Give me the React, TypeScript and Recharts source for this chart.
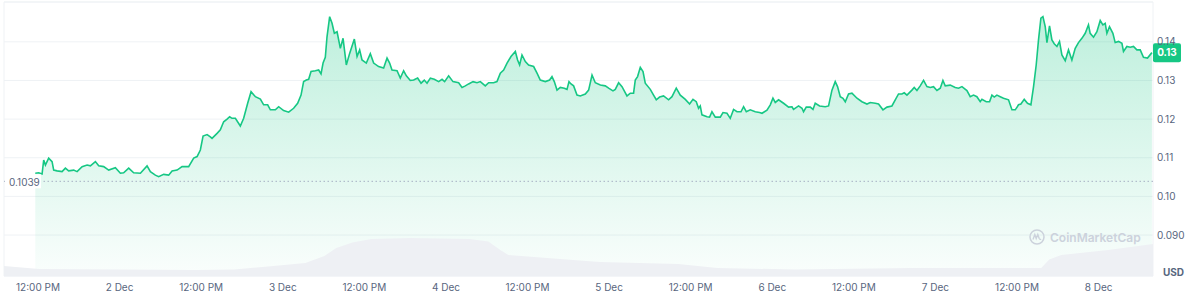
import React from 'react'
import { ComposedChart, Area, XAxis, YAxis, CartesianGrid, ReferenceLine, ReferenceArea } from 'recharts'

type Pt = [number, number]

// [hours since 1 Dec 00:00, price in USD]
const dec1: Pt[] = [
  [11.6, 0.1060], [12.1, 0.1061], [12.6, 0.1058], [12.84, 0.1094], [13.09, 0.1081], [13.57, 0.1099], [14.07, 0.1090],
  [14.31, 0.1068], [14.81, 0.1066], [15.54, 0.1064], [16.03, 0.1073], [16.51, 0.1066], [17.25, 0.1068], [17.75, 0.1064],
  [18.49, 0.1077], [19.22, 0.1081], [19.71, 0.1079], [20.44, 0.1090], [20.93, 0.1079], [21.66, 0.1077], [22.4, 0.1068],
  [23.38, 0.1074],
]
const dec2: Pt[] = [
  [24.12, 0.1060], [24.6, 0.1061], [25.34, 0.1073], [26.07, 0.1061], [27.06, 0.1060], [28.04, 0.1079], [28.53, 0.1064],
  [29.26, 0.1055], [29.75, 0.1051], [30.49, 0.1057], [31.22, 0.1055], [31.72, 0.1066], [32.46, 0.1068], [33.19, 0.1077],
  [34.16, 0.1077], [34.9, 0.1099], [35.4, 0.1103], [35.88, 0.1120], [36.28, 0.1156], [36.87, 0.1160], [37.35, 0.1154],
  [37.6, 0.1150], [38.34, 0.1163], [38.82, 0.1172], [39.31, 0.1193], [39.81, 0.1200], [40.19, 0.1206], [40.54, 0.1202],
  [41.03, 0.1202], [41.76, 0.1182], [42.25, 0.1202], [42.84, 0.1241], [43.34, 0.1271], [43.97, 0.1258], [44.71, 0.1252],
  [45.19, 0.1237], [45.78, 0.1237], [46.18, 0.1224], [46.91, 0.1224], [47.4, 0.1232],
]
const dec3: Pt[] = [
  [48.13, 0.1222], [48.87, 0.1218], [49.6, 0.1228], [50.19, 0.1241], [50.69, 0.1262], [51.07, 0.1297], [51.47, 0.1301],
  [51.81, 0.1303], [52.16, 0.1323], [52.79, 0.1325], [53.28, 0.1327], [53.63, 0.1317], [53.93, 0.1345], [54.26, 0.1360],
  [54.51, 0.1413], [54.9, 0.1465], [55.25, 0.1448], [55.59, 0.1422], [55.99, 0.1426], [56.47, 0.1383], [56.87, 0.1409],
  [57.35, 0.1340], [57.84, 0.1370], [58.53, 0.1407], [58.93, 0.1362], [59.31, 0.1379], [59.66, 0.1353], [60.29, 0.1345],
  [60.88, 0.1369], [61.37, 0.1345], [62.1, 0.1336], [62.84, 0.1332], [63.34, 0.1358], [63.72, 0.1345], [64.07, 0.1327],
  [64.81, 0.1325], [65.29, 0.1306], [65.78, 0.1325], [66.18, 0.1312], [66.76, 0.1300], [67.25, 0.1301], [67.84, 0.1306],
  [68.34, 0.1293], [68.82, 0.1301], [69.22, 0.1293], [69.71, 0.1306], [70.29, 0.1303], [70.93, 0.1297], [71.43, 0.1303],
  [71.81, 0.1297],
]
const dec4: Pt[] = [
  [72.4, 0.1312], [73.04, 0.1297], [73.87, 0.1294], [74.37, 0.1282], [74.85, 0.1286], [75.34, 0.1291], [75.99, 0.1297],
  [76.57, 0.1294], [77.06, 0.1297], [77.79, 0.1286], [78.28, 0.1294], [79.01, 0.1294], [79.51, 0.1297], [80, 0.1319],
  [80.49, 0.1327], [80.99, 0.1345], [81.57, 0.1362], [82.21, 0.1375], [82.54, 0.1353], [82.84, 0.1340], [83.19, 0.1366],
  [83.68, 0.1349], [84.16, 0.1340], [84.9, 0.1336], [85.4, 0.1319], [85.88, 0.1301], [86.62, 0.1297], [87.25, 0.1301],
  [87.6, 0.1310], [87.94, 0.1297], [88.34, 0.1275], [88.82, 0.1282], [89.41, 0.1280], [89.81, 0.1277], [90.1, 0.1297],
  [90.4, 0.1291], [90.78, 0.1286], [91.28, 0.1262], [91.76, 0.1260], [92.5, 0.1265], [92.99, 0.1275], [93.49, 0.1314],
  [93.97, 0.1294], [94.71, 0.1288], [95.44, 0.1286], [95.93, 0.1280],
]
const dec5: Pt[] = [
  [96.57, 0.1273], [96.91, 0.1277], [97.4, 0.1294], [97.9, 0.1284], [98.63, 0.1260], [99.12, 0.1267], [99.6, 0.1267],
  [99.85, 0.1301], [100.19, 0.1310], [100.59, 0.1334], [100.99, 0.1323], [101.32, 0.1293], [102.06, 0.1277],
  [102.54, 0.1262], [102.94, 0.1250], [103.43, 0.1257], [104.01, 0.1260], [104.75, 0.1250], [105.25, 0.1258],
  [105.88, 0.1280], [106.47, 0.1262], [107.21, 0.1251], [107.84, 0.1239], [108.34, 0.1251], [108.82, 0.1245],
  [109.16, 0.1228], [109.41, 0.1234], [109.66, 0.1211], [110.4, 0.1206], [110.78, 0.1205], [111.13, 0.1219],
  [111.62, 0.1205], [112.35, 0.1205], [112.75, 0.1217], [113.34, 0.1215], [113.82, 0.1202], [114.31, 0.1225],
  [114.81, 0.1219], [115.4, 0.1219], [115.78, 0.1232], [116.18, 0.1219], [116.76, 0.1224], [117.5, 0.1219],
  [118.13, 0.1217], [118.49, 0.1215], [119.22, 0.1223], [119.71, 0.1237],
]
const dec6: Pt[] = [
  [120.1, 0.1254], [120.44, 0.1243], [120.93, 0.1250], [121.66, 0.1241], [122.4, 0.1231], [122.9, 0.1232],
  [123.13, 0.1225], [123.87, 0.1234], [124.37, 0.1228], [124.6, 0.1219], [125, 0.1231], [125.59, 0.1231],
  [125.99, 0.1225], [126.32, 0.1241], [126.96, 0.1234], [127.79, 0.1232], [128.28, 0.1234], [128.78, 0.1275],
  [129.26, 0.1297], [129.6, 0.1284], [130, 0.1258], [130.4, 0.1254], [130.74, 0.1245], [131.22, 0.1265],
  [131.72, 0.1267], [132.46, 0.1254], [133.19, 0.1245], [133.93, 0.1239], [134.41, 0.1243], [135.15, 0.1241],
  [135.63, 0.1239], [136.28, 0.1224], [136.87, 0.1231], [137.6, 0.1234], [138.09, 0.1250], [138.57, 0.1265],
  [139.07, 0.1265], [139.41, 0.1268], [139.81, 0.1262], [140.54, 0.1275], [140.88, 0.1282], [141.28, 0.1274],
  [141.76, 0.1286], [142.25, 0.1300], [142.75, 0.1284], [143.24, 0.1282], [143.72, 0.1284],
]
const dec7: Pt[] = [
  [144.22, 0.1274], [144.71, 0.1280], [145.1, 0.1300], [145.44, 0.1286], [146.18, 0.1288], [146.91, 0.1282],
  [147.4, 0.1280], [147.9, 0.1284], [148.63, 0.1274], [149.12, 0.1258], [149.6, 0.1262], [150.1, 0.1258],
  [150.59, 0.1245], [150.84, 0.1251], [151.47, 0.1245], [151.96, 0.1245], [152.31, 0.1262], [152.65, 0.1257],
  [153.04, 0.1262], [153.53, 0.1258], [154.01, 0.1254], [154.75, 0.1250], [155.25, 0.1224], [155.74, 0.1224],
  [156.22, 0.1237], [156.57, 0.1239], [157.06, 0.1251], [157.54, 0.1241], [158.04, 0.1237], [158.43, 0.1284],
  [158.82, 0.1340], [159.16, 0.1405], [159.51, 0.1461], [159.81, 0.1465], [160.15, 0.1439], [160.4, 0.1398],
  [160.78, 0.1441], [161.13, 0.1405], [161.47, 0.1395], [161.87, 0.1388], [162.25, 0.1401], [162.6, 0.1366],
  [163.09, 0.1351], [163.57, 0.1379], [164.07, 0.1353], [164.56, 0.1383], [165.04, 0.1398], [165.54, 0.1409],
  [166.03, 0.1422], [166.51, 0.1444], [166.76, 0.1422], [167.25, 0.1412], [167.75, 0.1426],
]
const dec8: Pt[] = [
  [168.24, 0.1455], [168.63, 0.1444], [168.97, 0.1448], [169.22, 0.1422], [169.6, 0.1439], [170.1, 0.1422],
  [170.44, 0.1398], [170.93, 0.1401], [171.43, 0.1396], [171.66, 0.1375], [172.16, 0.1388], [172.65, 0.1386],
  [173.13, 0.1388], [173.63, 0.1379], [174.12, 0.1379], [174.6, 0.1360], [175.19, 0.1358], [175.84, 0.1372],
]

// [hours, volume in millions USD]
const volume: Pt[] = [
  [7, 100], [10.44, 80], [12.21, 70], [23.68, 65], [35.15, 60], [40.88, 65], [46.62, 100], [51.32, 130], [54.12, 200],
  [55.88, 280], [58.24, 335], [61.03, 370], [66.76, 380], [75.44, 370], [78.24, 345], [80, 260], [81.18, 210],
  [86.91, 180], [92.65, 150], [94.71, 140], [100.44, 130], [106.18, 120], [111.91, 80], [123.38, 65], [129.12, 70],
  [140.59, 80], [152.06, 80], [159.56, 80], [160.74, 165], [162.5, 210], [169.41, 260], [176, 320],
]

const xTicks = [12, 24, 36, 48, 60, 72, 84, 96, 108, 120, 132, 144, 156, 168]
const dayLabels = ['2 Dec', '3 Dec', '4 Dec', '5 Dec', '6 Dec', '7 Dec', '8 Dec']
const priceTicks = [0.09, 0.1, 0.11, 0.12, 0.13, 0.14]
const openPrice = 0.1039
const openLabel = '0.1039'
const currentLabel = '0.13'

const GREEN = '#16c784'
const AXIS_TEXT = '#58667e'

function buildRows() {
  const rows = new Map<number, { t: number; price?: number; volume?: number }>()
  const prices = [...dec1, ...dec2, ...dec3, ...dec4, ...dec5, ...dec6, ...dec7, ...dec8]
  prices.forEach(([t, p]) => rows.set(t, { ...(rows.get(t) || { t }), price: p }))
  volume.forEach(([t, v]) => rows.set(t, { ...(rows.get(t) || { t }), volume: v }))
  return [...rows.values()].sort((a, b) => a.t - b.t)
}

// midnight ticks show the date, noon ticks the time
const fmtX = (h: number) => (h % 24 === 0 ? dayLabels[h / 24 - 1] : '12:00 PM')
const fmtY = (v: number) => (v < 0.1 ? v.toFixed(3) : v.toFixed(2))

// label sitting on the dotted opening-price line
const OpenLabel = (props: any) => {
  const { x, y } = props.viewBox
  return (
    <g>
      <rect x={x + 2} y={y - 7} width={35} height={14} fill="#fff" />
      <text x={x + 5} y={y + 4.5} fontSize={10} fill={AXIS_TEXT}>{openLabel}</text>
    </g>
  )
}

// green badge with the latest price, on the right axis
const PriceBadge = (props: any) => {
  const { x, y, width } = props.viewBox
  const bx = x + width
  return (
    <g>
      <rect x={bx} y={y - 9.5} width={28} height={19} rx={2} fill={GREEN} />
      <text x={bx + 14} y={y + 3.5} fontSize={10} fontWeight={700} fill="#fff" textAnchor="middle">{currentLabel}</text>
    </g>
  )
}

export default function App() {
  const data = buildRows()
  const last = dec8[dec8.length - 1][1]

  return (
    <div style={{ position: 'absolute', left: 0, top: 0, width: 1201, height: 296, background: '#fff', fontFamily: 'Inter, sans-serif' }}>
      <ComposedChart width={1201} height={296} data={data} margin={{ top: 2, right: 0, bottom: 0, left: 4 }}>
        <defs>
          <linearGradient id="priceFill" x1="0" y1="0" x2="0" y2="1">
            <stop offset="0%" stopColor={GREEN} stopOpacity={0.28} />
            <stop offset="100%" stopColor={GREEN} stopOpacity={0.02} />
          </linearGradient>
        </defs>
        <CartesianGrid yAxisId="price" vertical={false} stroke="#eff2f5" />
        <XAxis
          dataKey="t" type="number" domain={[7, 176]} allowDataOverflow
          ticks={xTicks} interval={0} tickFormatter={fmtX}
          axisLine={false} tickLine={false} height={20}
          tick={{ fill: AXIS_TEXT, fontSize: 10 }}
        />
        <YAxis
          yAxisId="price" orientation="right" domain={[0.0794, 0.1503]} allowDataOverflow
          ticks={priceTicks} tickFormatter={fmtY} width={48}
          axisLine={false} tickLine={false} tickSize={2} tickMargin={2}
          tick={{ fill: AXIS_TEXT, fontSize: 10 }}
        />
        <YAxis yAxisId="vol" hide domain={[0, 2740]} />
        <ReferenceArea yAxisId="price" x1={7} x2={176} y1={0.0794} y2={0.1503} fill="none" stroke="#eff2f5" />
        <Area
          yAxisId="price" type="linear" dataKey="price" stroke={GREEN} strokeWidth={1.6}
          fill="url(#priceFill)" fillOpacity={1} connectNulls dot={false} activeDot={false} isAnimationActive={false}
        />
        <Area
          yAxisId="vol" type="linear" dataKey="volume" stroke="none" fill="#eef0f4" fillOpacity={1}
          connectNulls dot={false} activeDot={false} isAnimationActive={false}
        />
        <ReferenceLine yAxisId="price" y={openPrice} stroke="#a6b0c3" strokeDasharray="1.5 2.5" label={OpenLabel} />
        <ReferenceLine yAxisId="price" y={last} stroke="none" label={PriceBadge} />
      </ComposedChart>

      <div style={{ position: 'absolute', left: 1029, top: 229, display: 'flex', alignItems: 'center', gap: 5, color: '#ccd2dc', fontSize: 12, fontWeight: 600 }}>
        <svg width="16" height="16" viewBox="0 0 16 16">
          <circle cx="8" cy="8" r="7" fill="none" stroke="#ccd2dc" strokeWidth="1.5" />
          <path d="M4 10.5 L5.8 5.5 L7.2 9.5 L8.8 5.5 L10.2 9.5 Q11 11 12 10" fill="none" stroke="#ccd2dc" strokeWidth="1.4" />
        </svg>
        <span>CoinMarketCap</span>
      </div>
      <div style={{ position: 'absolute', left: 1163, top: 266, color: AXIS_TEXT, fontSize: 10, fontWeight: 700 }}>USD</div>
    </div>
  )
}
